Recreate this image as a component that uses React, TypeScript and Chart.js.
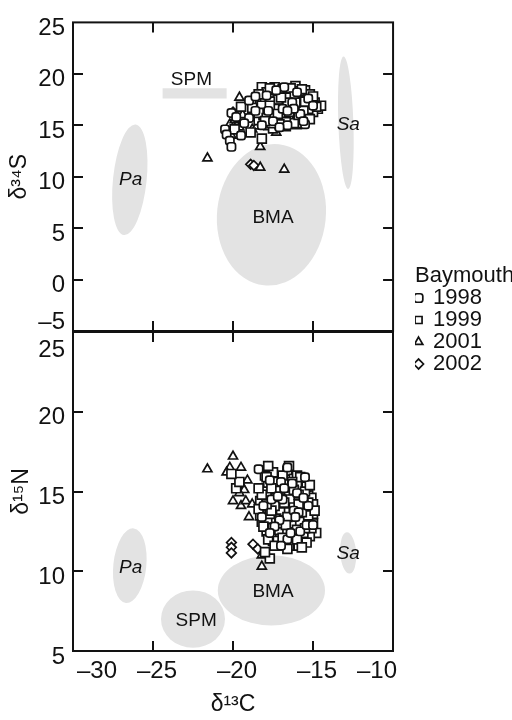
import { useEffect, useRef } from "react";
import { Chart, registerables } from "chart.js";

Chart.register(...registerables);

type Pt = [number, number];

const years = ["1998", "1999", "2001", "2002"];
const carbonTicks = [-30, -25, -20, -15, -10];
const sulfurTicks = [-5, 0, 5, 10, 15, 20, 25];
const nitrogenTicks = [5, 10, 15, 20, 25];

// δ13C / δ34S, Baymouth consumers by sampling year
const sulfur1998: Pt[] = [
  [-19.0, 17.4], [-20.1, 16.2], [-19.8, 15.8], [-20.5, 14.6], [-20.4, 14.1], [-20.2, 13.5],
  [-20.1, 12.9], [-19.5, 14.0], [-19.0, 15.7], [-18.6, 16.4], [-17.9, 17.9], [-16.8, 18.7],
  [-16.3, 17.2], [-15.8, 16.1], [-17.5, 15.4], [-16.6, 15.0], [-15.3, 17.6], [-16.9, 16.6],
  [-18.2, 15.0], [-16.0, 18.2], [-19.3, 15.2], [-17.1, 14.8], [-15.5, 15.1], [-18.6, 17.8],
  [-17.3, 18.4], [-16.2, 16.6], [-15.0, 16.9], [-17.8, 16.4], [-16.6, 16.4], [-15.6, 15.4],
];
const sulfur1999: Pt[] = [
  [-18.2, 18.7], [-17.4, 18.7], [-16.9, 18.5], [-16.1, 18.8], [-15.5, 18.4], [-15.1, 17.6],
  [-14.7, 16.6], [-15.0, 16.3], [-15.6, 15.7], [-16.0, 15.1], [-16.7, 14.9], [-17.2, 15.2],
  [-17.8, 15.0], [-18.4, 15.5], [-18.5, 16.5], [-18.3, 17.3], [-17.9, 18.2], [-17.6, 17.6],
  [-17.2, 17.9], [-16.8, 17.4], [-16.4, 18.0], [-16.0, 17.5], [-15.6, 17.9], [-15.3, 17.0],
  [-15.4, 16.3], [-15.9, 16.6], [-16.3, 16.3], [-16.7, 16.0], [-17.1, 16.4], [-17.5, 16.8],
  [-17.9, 16.6], [-18.1, 16.0], [-17.7, 15.8], [-17.3, 15.6], [-16.9, 15.5], [-16.4, 15.5],
  [-15.9, 15.6], [-17.0, 17.0], [-16.5, 17.0], [-16.1, 16.9], [-17.4, 17.2], [-17.8, 17.1],
  [-18.0, 17.7], [-16.6, 18.2], [-15.9, 18.3], [-15.2, 18.0], [-14.9, 17.2], [-18.8, 16.7],
  [-19.5, 16.8], [-19.9, 14.6], [-18.9, 14.3], [-18.2, 13.7], [-16.2, 15.9], [-15.7, 15.2],
  [-17.5, 14.7], [-14.5, 16.9], [-16.9, 18.0], [-16.3, 17.4], [-15.7, 16.9], [-17.6, 16.2],
  [-18.4, 18.0], [-17.7, 18.6], [-17.1, 18.3], [-16.4, 18.6], [-15.7, 18.5], [-15.0, 17.8],
  [-14.8, 16.8], [-15.3, 16.6], [-15.8, 17.3], [-16.2, 17.8], [-16.7, 17.7], [-17.2, 17.5],
  [-17.7, 17.3], [-18.2, 16.9], [-18.4, 16.2], [-17.9, 15.7], [-17.4, 16.0], [-16.9, 16.2],
  [-16.5, 16.6], [-16.0, 16.2], [-15.6, 16.4], [-15.2, 15.6], [-16.2, 15.2], [-16.7, 15.3],
  [-17.1, 15.1], [-17.6, 15.2], [-18.0, 15.4], [-16.6, 17.2], [-17.3, 16.6], [-16.1, 17.2],
  [-17.0, 17.7], [-15.5, 17.3], [-16.5, 16.3], [-17.7, 16.9], [-15.9, 16.0], [-17.2, 16.1],
];
const sulfur2001: Pt[] = [
  [-19.6, 17.7], [-19.4, 16.0], [-20.2, 15.1], [-20.1, 14.0], [-18.8, 14.6], [-18.5, 14.9],
  [-18.3, 12.9], [-17.3, 14.3], [-21.6, 11.8], [-16.8, 10.7], [-18.3, 10.9], [-17.6, 16.2],
  [-16.2, 17.6], [-17.9, 15.3], [-16.5, 18.5], [-15.4, 15.9], [-19.9, 15.5], [-19.6, 14.8],
  [-17.0, 15.9],
];
const sulfur2002: Pt[] = [
  [-18.9, 11.2], [-18.7, 11.1], [-20.0, 16.3], [-19.7, 15.0],
];

// δ13C / δ15N, same animals
const nitrogen1998: Pt[] = [
  [-16.6, 16.5], [-18.4, 16.4], [-17.0, 15.6], [-16.0, 14.9], [-17.6, 14.5], [-16.2, 13.8],
  [-15.3, 14.1], [-17.1, 13.2], [-15.8, 12.5], [-16.6, 12.0], [-17.4, 12.8], [-18.1, 14.1],
  [-15.5, 15.9], [-16.9, 14.5], [-15.9, 13.7], [-17.0, 11.6], [-16.3, 15.5], [-17.7, 15.7],
  [-16.8, 15.2], [-15.6, 14.6], [-17.2, 14.7], [-16.1, 13.4], [-15.4, 12.9], [-17.7, 12.4],
  [-16.4, 12.4], [-15.0, 12.9], [-18.2, 13.4],
];
const nitrogen1999: Pt[] = [
  [-16.6, 16.3], [-17.2, 15.9], [-16.2, 15.8], [-15.7, 15.6], [-17.8, 15.5], [-17.0, 15.4],
  [-16.4, 15.3], [-15.9, 15.1], [-15.3, 14.9], [-18.1, 15.0], [-17.5, 14.9], [-16.8, 14.8],
  [-16.1, 14.6], [-15.5, 14.4], [-15.1, 14.6], [-18.3, 14.4], [-17.7, 14.3], [-17.1, 14.2],
  [-16.5, 14.1], [-15.8, 14.0], [-15.2, 13.8], [-18.0, 13.8], [-17.4, 13.6], [-16.9, 13.5],
  [-16.3, 13.5], [-15.6, 13.4], [-15.1, 13.2], [-18.2, 13.1], [-17.6, 13.0], [-17.0, 12.9],
  [-16.4, 12.9], [-15.9, 12.8], [-15.3, 12.6], [-17.9, 12.5], [-17.3, 12.4], [-16.7, 12.3],
  [-16.1, 12.2], [-15.5, 12.1], [-16.8, 11.9], [-16.2, 11.7], [-17.5, 11.9], [-14.8, 12.4],
  [-15.8, 11.9], [-17.7, 10.8], [-18.0, 11.2], [-16.0, 16.0], [-17.5, 16.2], [-16.9, 15.7],
  [-15.4, 15.3], [-17.3, 15.1], [-16.6, 15.0], [-15.0, 14.2], [-17.9, 14.7], [-16.3, 14.3],
  [-15.6, 14.9], [-17.2, 13.9], [-16.7, 13.8], [-15.4, 13.7], [-18.3, 13.5], [-17.8, 13.3],
  [-16.1, 13.1], [-15.6, 12.9], [-16.9, 12.6], [-17.6, 12.2], [-15.2, 12.2], [-16.5, 11.6],
  [-15.0, 13.0], [-16.5, 16.6], [-18.0, 16.0], [-19.8, 15.2], [-19.6, 15.6], [-20.1, 16.1],
  [-17.8, 16.6], [-17.9, 15.9], [-17.4, 15.6], [-16.7, 15.5], [-16.0, 15.4], [-15.5, 15.0],
  [-18.2, 14.8], [-17.3, 14.6], [-16.5, 14.7], [-15.9, 14.5], [-15.3, 14.3], [-18.4, 13.9],
  [-17.8, 13.9], [-17.0, 13.7], [-16.5, 13.7], [-16.0, 13.9], [-15.5, 13.9], [-15.0, 13.6],
  [-18.1, 12.8], [-17.5, 12.7], [-17.1, 12.6], [-16.6, 12.6], [-16.1, 12.5], [-15.6, 12.4],
  [-15.1, 12.7], [-17.8, 12.0], [-17.2, 11.9], [-16.7, 11.8], [-15.9, 11.6], [-15.4, 11.8],
  [-17.3, 13.3], [-16.8, 13.2], [-16.3, 13.0], [-15.8, 13.1], [-15.3, 13.5], [-17.7, 13.6],
  [-16.4, 14.5], [-15.9, 14.8], [-17.0, 14.5], [-16.2, 15.1], [-17.6, 15.2], [-15.2, 15.4],
  [-14.9, 13.8], [-16.9, 16.0], [-15.8, 15.9], [-18.4, 15.2], [-16.0, 12.0], [-17.4, 11.6],
  [-16.6, 11.4], [-15.7, 11.5], [-16.8, 14.3], [-17.4, 14.1], [-16.2, 14.0], [-15.7, 13.7],
  [-16.6, 13.4], [-17.1, 13.0], [-16.0, 12.6], [-15.5, 12.7], [-16.9, 12.1], [-17.6, 13.8],
  [-16.3, 15.6], [-15.6, 14.2], [-17.9, 14.2], [-16.7, 12.9], [-15.9, 14.2],
];
const nitrogen2001: Pt[] = [
  [-21.6, 16.4], [-20.0, 17.2], [-20.2, 16.5], [-20.4, 16.2], [-19.5, 16.5], [-19.1, 15.7],
  [-19.5, 15.4], [-19.3, 15.1], [-19.6, 14.9], [-20.0, 14.4], [-19.5, 14.1], [-19.2, 14.4],
  [-18.8, 14.2], [-19.0, 13.4], [-18.2, 10.3], [-18.2, 11.0], [-17.3, 11.5], [-17.3, 11.9],
  [-18.0, 13.7], [-17.5, 13.0], [-16.8, 14.0], [-16.1, 12.6], [-15.7, 13.2], [-17.0, 15.1],
  [-16.4, 13.2],
];
const nitrogen2002: Pt[] = [
  [-20.1, 11.8], [-20.1, 11.5], [-20.1, 11.15], [-18.75, 11.7], [-18.45, 11.4], [-17.85, 16.55],
];

// Source end-members: centre and half-spread in per-mil units, tilt in degrees
type Source = {
  name: string; cx: number; cy: number; rx: number; ry: number; tilt: number;
  lx: number; ly: number; italic?: boolean; bar?: boolean;
};
const sulfurSources: Source[] = [
  { name: "Pa", cx: -26.45, cy: 9.7, rx: 1.05, ry: 5.4, tilt: 6, lx: -26.4, ly: 9.7, italic: true },
  { name: "SPM", cx: -22.4, cy: 18.1, rx: 2.0, ry: 0.5, tilt: 0, lx: -22.6, ly: 19.4, bar: true },
  { name: "BMA", cx: -17.6, cy: 6.3, rx: 3.4, ry: 6.9, tilt: 6, lx: -17.5, ly: 6.0 },
  { name: "Sa", cx: -12.95, cy: 15.25, rx: 0.47, ry: 6.45, tilt: -2, lx: -12.8, ly: 15.1, italic: true },
];
const nitrogenSources: Source[] = [
  { name: "Pa", cx: -26.45, cy: 10.35, rx: 1.03, ry: 2.35, tilt: 6, lx: -26.4, ly: 10.2, italic: true },
  { name: "SPM", cx: -22.5, cy: 7.0, rx: 2.0, ry: 1.8, tilt: 0, lx: -22.3, ly: 6.9 },
  { name: "BMA", cx: -17.6, cy: 8.8, rx: 3.35, ry: 2.2, tilt: 0, lx: -17.5, ly: 8.7 },
  { name: "Sa", cx: -12.8, cy: 11.15, rx: 0.5, ry: 1.3, tilt: -4, lx: -12.8, ly: 11.1, italic: true },
];

const INK = "#121212";
const SHADE = "#e3e3e3";
const FONT = "'Liberation Sans', Arial, sans-serif";
const TICK = 10;

Chart.defaults.font.family = FONT;
Chart.defaults.color = INK;

const markerStyles = ["rectRounded", "rect", "triangle", "rectRot"];
const markerRadii = [4.8, 6.3, 5.2, 4.8];

function series(i: number, pts: Pt[]) {
  return {
    label: years[i],
    data: pts.map(([x, y]) => ({ x, y })),
    pointStyle: markerStyles[i],
    pointRadius: markerRadii[i],
    pointHoverRadius: markerRadii[i],
    backgroundColor: "#ffffff",
    borderColor: INK,
    borderWidth: 1.7,
  };
}

const dash = (v: number) => (v < 0 ? "\u2013" + Math.abs(v) : String(v));

function useTicks(list: number[]) {
  return (s: any) => {
    s.ticks = list.map((value) => ({ value }));
  };
}

// shaded source regions and their names, placed through the chart scales
function sourcesPlugin(list: Source[]) {
  return {
    id: "sources",
    beforeDatasetsDraw(chart: any) {
      const { ctx, scales } = chart;
      const xs = scales.x;
      const ys = scales.y;
      ctx.save();
      ctx.fillStyle = SHADE;
      for (const s of list) {
        const px = xs.getPixelForValue(s.cx);
        const py = ys.getPixelForValue(s.cy);
        const rx = Math.abs(xs.getPixelForValue(s.cx + s.rx) - px);
        const ry = Math.abs(ys.getPixelForValue(s.cy + s.ry) - py);
        ctx.beginPath();
        if (s.bar) ctx.rect(px - rx, py - ry, rx * 2, ry * 2);
        else ctx.ellipse(px, py, rx, ry, (s.tilt * Math.PI) / 180, 0, Math.PI * 2);
        ctx.fill();
      }
      ctx.fillStyle = INK;
      ctx.textAlign = "center";
      ctx.textBaseline = "middle";
      for (const s of list) {
        ctx.font = `${s.italic ? "italic " : ""}19px ${FONT}`;
        ctx.fillText(s.name, xs.getPixelForValue(s.lx), ys.getPixelForValue(s.ly));
      }
      ctx.restore();
    },
  };
}

// closed frame with inward tick marks on all four sides
const framePlugin = {
  id: "frame",
  afterDraw(chart: any) {
    const { ctx, chartArea: a, scales } = chart;
    const xs = scales.x;
    const ys = scales.y;
    ctx.save();
    ctx.strokeStyle = INK;
    ctx.lineWidth = 2;
    ctx.strokeRect(a.left, a.top, a.right - a.left, a.bottom - a.top);
    ctx.beginPath();
    for (const t of xs.ticks) {
      if (t.value <= xs.min || t.value >= xs.max) continue;
      const p = Math.round(xs.getPixelForValue(t.value));
      ctx.moveTo(p, a.bottom);
      ctx.lineTo(p, a.bottom - TICK);
      ctx.moveTo(p, a.top);
      ctx.lineTo(p, a.top + TICK);
    }
    for (const t of ys.ticks) {
      if (t.value <= ys.min || t.value >= ys.max) continue;
      const p = Math.round(ys.getPixelForValue(t.value));
      ctx.moveTo(a.left, p);
      ctx.lineTo(a.left + TICK, p);
      ctx.moveTo(a.right, p);
      ctx.lineTo(a.right - TICK, p);
    }
    ctx.stroke();
    ctx.restore();
  },
};

// let the legend title run past the item column up to the canvas edge
const legendRoomPlugin = {
  id: "legendRoom",
  beforeDraw(chart: any) {
    const lg = chart.legend;
    if (lg) {
      lg.right = chart.width;
      lg.width = lg.right - lg.left;
    }
  },
};

const hidden = {
  ticks: { display: false },
  grid: { display: false, drawTicks: false },
  border: { display: false },
};

function topConfig(): any {
  return {
    type: "scatter",
    data: {
      datasets: [sulfur1998, sulfur1999, sulfur2001, sulfur2002].map((p, i) => series(i, p)),
    },
    options: {
      responsive: false,
      animation: false,
      events: [],
      layout: { padding: { top: 13, right: 20, bottom: 0, left: 0 } },
      plugins: {
        tooltip: { enabled: false },
        legend: {
          position: "right",
          align: "end",
          labels: {
            usePointStyle: true,
            boxWidth: 7,
            boxHeight: 7,
            padding: 0,
            color: INK,
            font: { size: 22 },
          },
          title: {
            display: true,
            text: "Baymouth",
            position: "start",
            color: INK,
            padding: 0,
            font: { size: 22, lineHeight: 1 },
          },
        },
      },
      scales: {
        x: {
          type: "linear",
          position: "bottom",
          min: -30,
          max: -10,
          afterBuildTicks: useTicks(carbonTicks),
          ...hidden,
          afterFit: (s: any) => { s.height = 44; },
        },
        y: {
          type: "linear",
          position: "left",
          min: -5,
          max: 25,
          afterBuildTicks: useTicks(sulfurTicks),
          grid: { display: false, drawTicks: false },
          border: { display: false },
          ticks: {
            color: INK,
            padding: 8,
            labelOffset: 6,
            autoSkip: false,
            font: { size: 24, lineHeight: 1.2 },
            // the lowest label sits just above the shared border
            callback: (v: number) => (v === -5 ? [dash(v), ""] : dash(v)),
          },
          title: {
            display: true,
            text: "δ³⁴S",
            color: INK,
            font: { size: 23 },
            padding: { top: 6, bottom: 0 },
          },
          afterFit: (s: any) => { s.width = 73; },
        },
        yR: {
          type: "linear",
          position: "right",
          ...hidden,
          afterFit: (s: any) => { s.width = 22; },
        },
      },
    },
    plugins: [sourcesPlugin(sulfurSources), framePlugin, legendRoomPlugin],
  };
}

function bottomConfig(): any {
  return {
    type: "scatter",
    data: {
      datasets: [nitrogen1998, nitrogen1999, nitrogen2001, nitrogen2002].map((p, i) => series(i, p)),
    },
    options: {
      responsive: false,
      animation: false,
      events: [],
      layout: { padding: { top: 31, right: 119, bottom: 0, left: 0 } },
      plugins: {
        tooltip: { enabled: false },
        legend: { display: false },
      },
      scales: {
        x: {
          type: "linear",
          position: "bottom",
          min: -30,
          max: -10,
          afterBuildTicks: useTicks(carbonTicks),
          grid: { display: false, drawTicks: false },
          border: { display: false },
          ticks: {
            color: INK,
            padding: 6,
            labelOffset: 4,
            align: "inner",
            maxRotation: 0,
            autoSkip: false,
            font: { size: 24 },
            callback: (v: number) => dash(v),
          },
          title: {
            display: true,
            text: "δ¹³C",
            color: INK,
            font: { size: 23 },
            padding: { top: 0, bottom: 2 },
          },
          afterFit: (s: any) => { s.height = 69; },
        },
        y: {
          type: "linear",
          position: "left",
          min: 5,
          max: 25,
          afterBuildTicks: useTicks(nitrogenTicks),
          grid: { display: false, drawTicks: false },
          border: { display: false },
          ticks: {
            color: INK,
            padding: 8,
            labelOffset: 6,
            autoSkip: false,
            font: { size: 24, lineHeight: 1.0 },
            // the top label sits just below the shared border
            callback: (v: number) => (v === 25 ? ["", dash(v)] : dash(v)),
          },
          title: {
            display: true,
            text: "δ¹⁵N",
            color: INK,
            font: { size: 23 },
            padding: { top: 8, bottom: 0 },
          },
          afterFit: (s: any) => { s.width = 73; },
        },
      },
    },
    plugins: [sourcesPlugin(nitrogenSources), framePlugin],
  };
}

export default function App() {
  const topRef = useRef<HTMLCanvasElement>(null);
  const bottomRef = useRef<HTMLCanvasElement>(null);

  useEffect(() => {
    const top = new Chart(topRef.current as HTMLCanvasElement, topConfig());
    const bottom = new Chart(bottomRef.current as HTMLCanvasElement, bottomConfig());
    return () => {
      top.destroy();
      bottom.destroy();
    };
  }, []);

  return (
    <div style={{ position: "absolute", left: 0, top: 0, width: 512, height: 720, background: "#fff" }}>
      <canvas
        ref={topRef}
        width={512}
        height={375}
        style={{ position: "absolute", left: 0, top: 0, width: 512, height: 375 }}
      />
      <canvas
        ref={bottomRef}
        width={512}
        height={420}
        style={{ position: "absolute", left: 0, top: 300, width: 512, height: 420 }}
      />
    </div>
  );
}
